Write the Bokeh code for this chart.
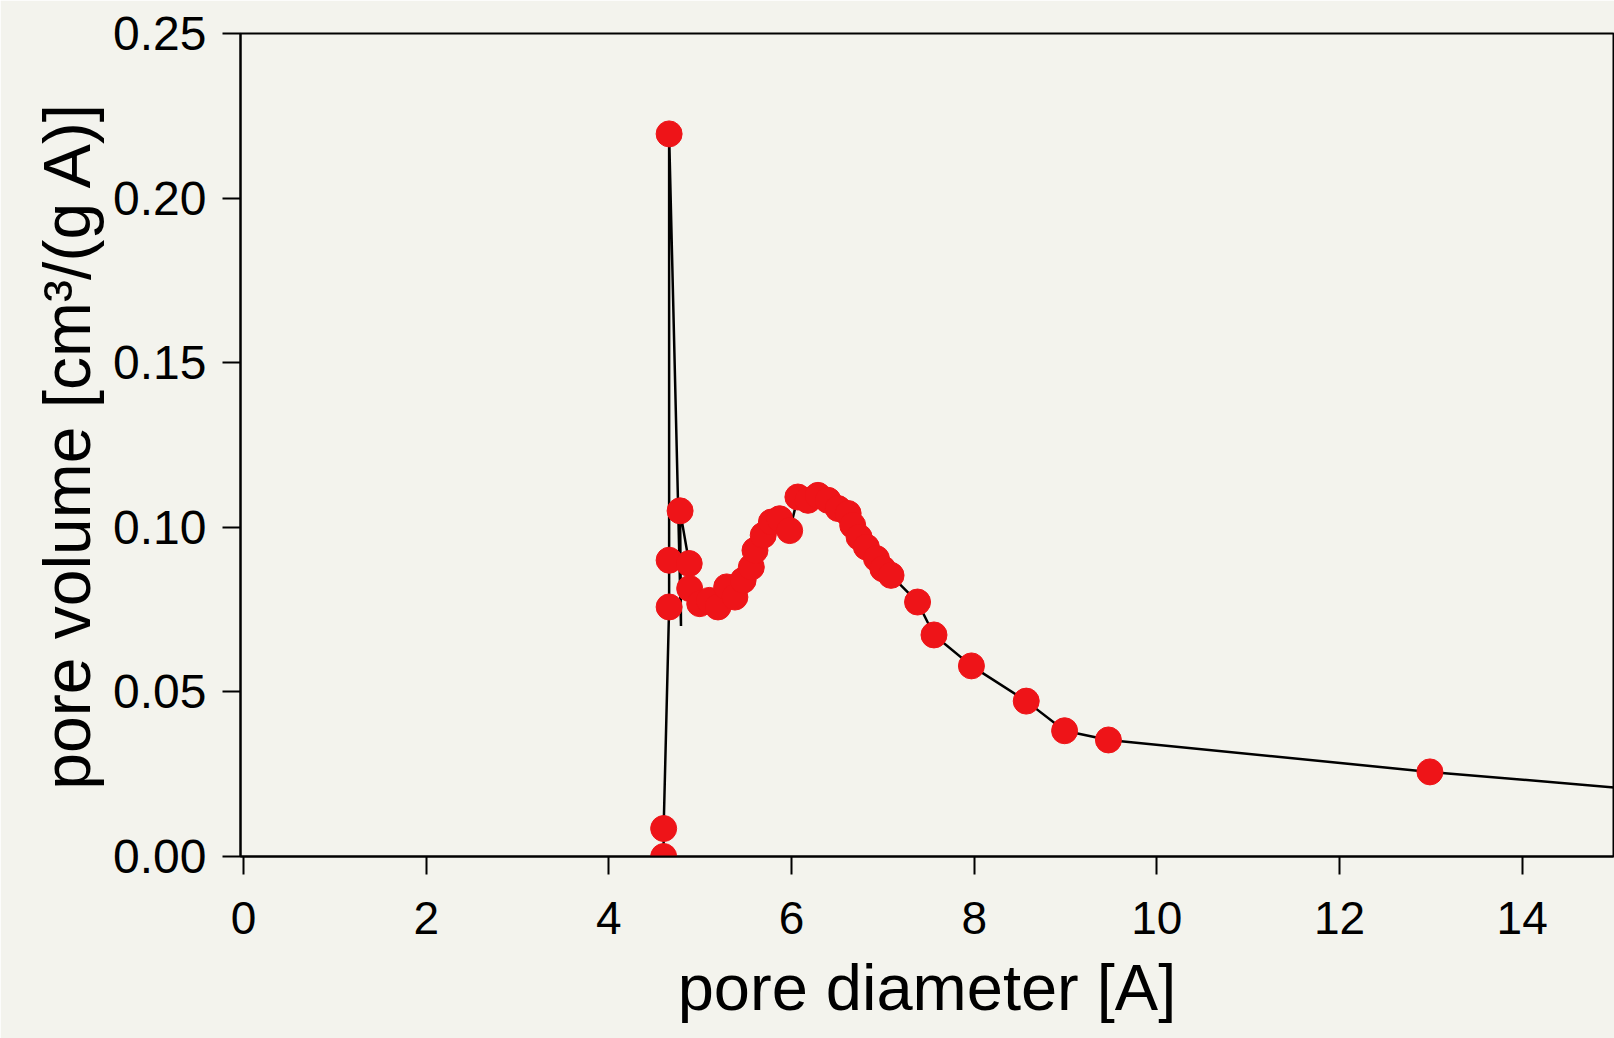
from bokeh.plotting import figure
from bokeh.models import Range1d, FixedTicker, NumeralTickFormatter, ColumnDataSource, Title
from bokeh.embed import file_html
from bokeh.resources import INLINE

# measured points (pore diameter in A, pore volume in cm3/(g A))
pore_diameter = [4.60, 4.60, 4.66, 4.66, 4.66, 4.78, 4.88, 4.885, 4.995, 5.10,
                 5.195, 5.29, 5.38, 5.47, 5.56, 5.60, 5.69, 5.78, 5.87, 5.98,
                 6.07, 6.18, 6.29, 6.40, 6.51, 6.62, 6.67, 6.74, 6.82, 6.93,
                 7.00, 7.09, 7.38, 7.56, 7.97, 8.57, 8.99, 9.47, 12.99, 16.5]
pore_volume = [0.0000, 0.0085, 0.2195, 0.0758, 0.0900, 0.1050, 0.0890, 0.0814, 0.0768, 0.0778,
               0.0758, 0.0819, 0.0788, 0.0839, 0.0879, 0.0930, 0.0976, 0.1016, 0.1026, 0.0990,
               0.1092, 0.1082, 0.1097, 0.1082, 0.1057, 0.1042, 0.1006, 0.0970, 0.0940, 0.0905,
               0.0874, 0.0854, 0.0773, 0.0673, 0.0579, 0.0472, 0.0382, 0.0354, 0.0257, 0.0175]

# connecting curve, in the drawing order seen in the picture
line_diameter = [4.60, 4.60, 4.66, 4.66, 4.66, 4.79, 4.78, 4.88, 4.885, 4.995, 5.10,
                 5.195, 5.29, 5.38, 5.47, 5.56, 5.60, 5.69, 5.78, 5.87, 5.98,
                 6.07, 6.18, 6.29, 6.40, 6.51, 6.62, 6.67, 6.74, 6.82, 6.93,
                 7.00, 7.09, 7.38, 7.56, 7.97, 8.57, 8.99, 9.47, 12.99, 16.5]
line_volume = [0.0000, 0.0085, 0.0758, 0.0900, 0.2195, 0.0700, 0.1050, 0.0890, 0.0814, 0.0768, 0.0778,
               0.0758, 0.0819, 0.0788, 0.0839, 0.0879, 0.0930, 0.0976, 0.1016, 0.1026, 0.0990,
               0.1092, 0.1082, 0.1097, 0.1082, 0.1057, 0.1042, 0.1006, 0.0970, 0.0940, 0.0905,
               0.0874, 0.0854, 0.0773, 0.0673, 0.0579, 0.0472, 0.0382, 0.0354, 0.0257, 0.0175]

x_ticks = [0, 2, 4, 6, 8, 10, 12, 14]
y_ticks = [0.00, 0.05, 0.10, 0.15, 0.20, 0.25]
x_title = "pore diameter [A]"
y_title = "pore volume [cm³/(g A)]"

FONT = "Liberation Sans"
BG = "#f3f3ed"
X_MIN, X_MAX = -0.033, 15.0
Y_MIN, Y_MAX = 0.0, 0.25

p = figure(width=1614, height=1038, output_backend="svg", toolbar_location=None,
           x_range=Range1d(X_MIN, X_MAX), y_range=Range1d(Y_MIN, Y_MAX),
           min_border_left=240, min_border_right=1, min_border_top=33,
           min_border_bottom=182)

p.background_fill_color = BG
p.border_fill_color = BG
p.outline_line_color = "black"
p.outline_line_width = 2
p.xgrid.visible = False
p.ygrid.visible = False

line_src = ColumnDataSource(dict(x=line_diameter, y=line_volume))
pt_src = ColumnDataSource(dict(x=pore_diameter, y=pore_volume))
p.line("x", "y", source=line_src, line_color="black", line_width=2.5)
p.scatter("x", "y", source=pt_src, size=26, fill_color="#ee1418", line_color="#ee1418",
          line_width=1)

for ax in (p.xaxis[0], p.yaxis[0]):
    ax.axis_line_color = "black"
    ax.axis_line_width = 2
    ax.major_tick_line_color = "black"
    ax.major_tick_line_width = 2
    ax.major_tick_out = 18
    ax.major_tick_in = 0
    ax.minor_tick_line_color = None
    ax.major_label_text_font = FONT
    ax.major_label_text_color = "black"
    ax.axis_label_text_font = FONT
    ax.axis_label_text_font_style = "normal"
    ax.axis_label_text_color = "black"

p.xaxis.ticker = FixedTicker(ticks=x_ticks)
p.yaxis.ticker = FixedTicker(ticks=y_ticks)
p.yaxis.formatter = NumeralTickFormatter(format="0.00")
p.xaxis.major_label_text_font_size = "46px"
p.yaxis.major_label_text_font_size = "48px"
p.xaxis.major_label_standoff = 27
p.yaxis.major_label_standoff = 16

p.yaxis.axis_label = y_title
p.yaxis.axis_label_text_font_size = "66px"
p.yaxis.axis_label_standoff = 6

# x title as a panel below the axis
p.add_layout(Title(text=x_title, align="center", text_font=FONT, text_font_size="65px",
                   text_font_style="normal", text_color="black", standoff=24, offset=3),
             "below")

open("out.html", "w").write(file_html(p, INLINE))
